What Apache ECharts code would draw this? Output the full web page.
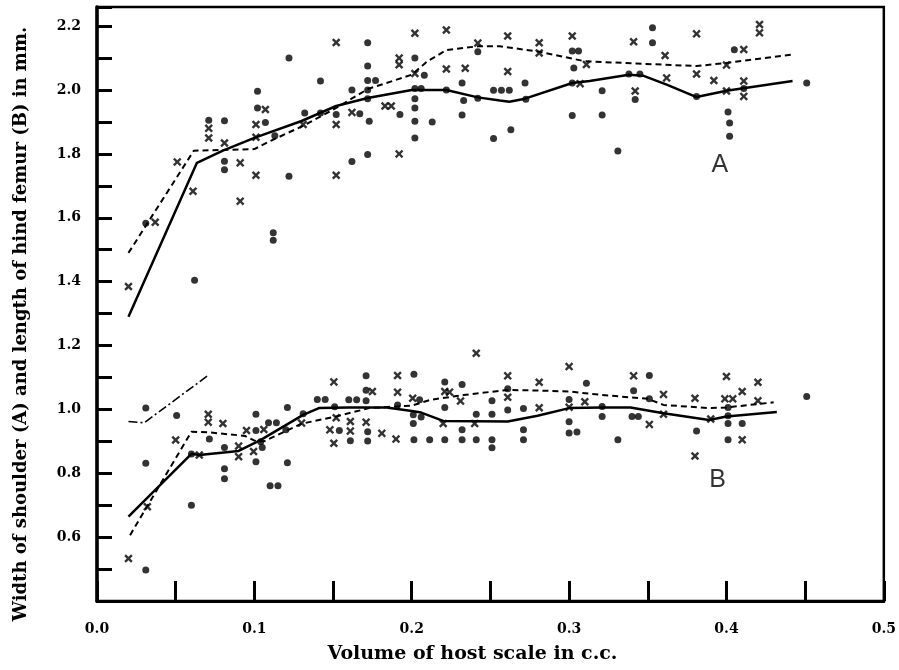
<!DOCTYPE html>
<html>
<head>
<meta charset="utf-8">
<script src="https://cdn.jsdelivr.net/npm/echarts@6/dist/echarts.min.js"></script>
<style>
html,body{margin:0;padding:0;background:#fff;}
#chart{width:899px;height:670px;}
</style>
</head>
<body>
<div id="chart"></div>
<script>
// ---- Data (x = volume of host scale in c.c., y = mm) ----
const aDots = [
 [0.031,1.583],[0.062,1.404],[0.071,1.905],[0.081,1.904],[0.081,1.777],[0.081,1.75],
 [0.102,1.996],[0.102,1.944],[0.107,1.898],[0.113,1.857],[0.112,1.553],[0.112,1.53],
 [0.122,2.1],[0.122,1.73],[0.132,1.928],[0.142,2.028],[0.142,1.928],[0.152,1.923],
 [0.162,2.0],[0.162,1.776],[0.167,1.926],[0.172,2.148],[0.172,2.075],[0.172,2.03],
 [0.177,2.03],[0.172,2.0],[0.172,1.973],[0.173,1.902],[0.172,1.798],[0.1925,1.923],
 [0.202,2.1],[0.202,2.005],[0.206,2.005],[0.202,1.973],[0.202,1.944],[0.202,1.902],
 [0.202,1.85],[0.208,2.046],[0.213,1.9],[0.222,2.0],[0.232,2.022],[0.232,1.922],
 [0.233,1.967],[0.242,2.12],[0.242,1.974],[0.252,1.999],[0.257,1.999],[0.262,1.999],
 [0.252,1.848],[0.263,1.876],[0.272,2.022],[0.2725,1.971],[0.302,2.122],[0.306,2.122],
 [0.303,2.069],[0.302,2.022],[0.302,1.92],[0.321,1.998],[0.321,1.922],[0.331,1.809],
 [0.338,2.05],[0.345,2.05],[0.342,1.97],[0.353,2.195],[0.353,2.148],[0.381,1.98],
 [0.405,2.126],[0.401,1.931],[0.402,1.897],[0.402,1.855],[0.411,2.005],[0.451,2.022]
];
const aCrosses = [
 [0.02,1.385],[0.037,1.586],[0.051,1.775],[0.061,1.683],[0.071,1.88],[0.071,1.85],
 [0.081,1.834],[0.091,1.772],[0.091,1.652],[0.101,1.892],[0.101,1.852],[0.101,1.733],
 [0.107,1.939],[0.131,1.892],[0.152,2.149],[0.152,1.892],[0.152,1.733],[0.162,1.93],
 [0.183,1.95],[0.187,1.95],[0.192,2.1],[0.192,2.079],[0.192,1.8],[0.202,2.178],
 [0.202,2.052],[0.222,2.188],[0.222,2.066],[0.234,2.068],[0.242,2.147],[0.261,2.169],
 [0.261,2.058],[0.281,2.148],[0.281,2.116],[0.302,2.169],[0.307,2.02],[0.311,2.08],
 [0.341,2.151],[0.342,1.997],[0.361,2.108],[0.362,2.038],[0.381,2.176],[0.381,2.05],
 [0.392,2.03],[0.4,2.078],[0.4,1.997],[0.411,2.127],[0.411,2.028],[0.411,1.98],
 [0.421,2.205],[0.421,2.179]
];
const bDots = [
 [0.031,1.004],[0.031,0.831],[0.031,0.497],[0.0506,0.981],[0.06,0.7],[0.06,0.86],
 [0.0714,0.907],[0.081,0.881],[0.081,0.814],[0.081,0.783],[0.101,0.985],[0.101,0.934],
 [0.101,0.836],[0.104,0.899],[0.105,0.881],[0.109,0.958],[0.114,0.958],[0.11,0.761],
 [0.115,0.761],[0.121,1.006],[0.12,0.936],[0.121,0.833],[0.131,0.986],[0.14,1.031],
 [0.145,1.031],[0.151,1.008],[0.154,0.934],[0.16,1.03],[0.165,1.03],[0.171,1.105],
 [0.171,1.06],[0.171,1.027],[0.172,0.93],[0.172,0.901],[0.161,0.902],[0.191,1.014],
 [0.2014,1.11],[0.205,1.03],[0.201,0.983],[0.201,0.956],[0.206,0.976],[0.2014,0.905],
 [0.2114,0.905],[0.221,1.086],[0.221,1.006],[0.221,0.905],[0.232,1.078],[0.232,0.936],
 [0.232,0.905],[0.241,0.985],[0.241,0.905],[0.251,1.027],[0.251,0.985],[0.251,0.905],
 [0.251,0.88],[0.261,1.065],[0.261,0.998],[0.271,1.003],[0.271,0.936],[0.271,0.905],
 [0.3,1.031],[0.3,0.961],[0.3,0.926],[0.305,0.929],[0.311,1.082],[0.321,1.009],
 [0.321,0.978],[0.331,0.905],[0.34,0.978],[0.344,0.978],[0.341,1.058],[0.351,1.106],
 [0.351,1.033],[0.381,0.932],[0.401,1.006],[0.401,0.98],[0.401,0.956],[0.401,0.905],
 [0.41,0.956],[0.451,1.04]
];
const bCrosses = [
 [0.02,0.533],[0.032,0.695],[0.05,0.904],[0.065,0.857],[0.0707,0.985],[0.0707,0.96],
 [0.08,0.956],[0.09,0.885],[0.09,0.852],[0.095,0.934],[0.0995,0.868],[0.106,0.937],
 [0.13,0.957],[0.1505,1.086],[0.152,0.974],[0.148,0.936],[0.1505,0.894],[0.161,0.962],
 [0.161,0.932],[0.171,0.96],[0.175,1.056],[0.181,0.925],[0.191,1.106],[0.191,1.054],
 [0.19,0.907],[0.2006,1.035],[0.221,1.056],[0.224,1.054],[0.22,0.956],[0.231,1.026],
 [0.24,0.956],[0.241,1.176],[0.261,1.105],[0.261,1.038],[0.281,1.085],[0.281,1.005],
 [0.3,1.134],[0.3,1.007],[0.31,1.024],[0.341,1.105],[0.351,0.953],[0.36,1.047],
 [0.36,0.985],[0.38,1.035],[0.38,0.854],[0.39,0.97],[0.4,1.103],[0.399,1.033],
 [0.404,1.033],[0.41,1.056],[0.41,0.905],[0.42,1.085],[0.42,1.027]
];
const aSolid = [[0.02,1.29],[0.0635,1.772],[0.08,1.81],[0.1,1.85],[0.13,1.903],[0.152,1.95],
 [0.172,1.975],[0.2,2.0],[0.222,2.0],[0.242,1.977],[0.256,1.967],[0.262,1.963],[0.272,1.973],
 [0.302,2.022],[0.313,2.028],[0.338,2.048],[0.347,2.045],[0.362,2.017],[0.381,1.978],
 [0.4,1.998],[0.442,2.028]];
const aDashed = [[0.02,1.49],[0.0615,1.81],[0.1,1.815],[0.11,1.84],[0.131,1.888],[0.152,1.944],
 [0.172,2.003],[0.2,2.048],[0.21,2.09],[0.222,2.125],[0.242,2.137],[0.256,2.137],[0.281,2.12],
 [0.31,2.09],[0.343,2.083],[0.381,2.075],[0.4,2.085],[0.442,2.111]];
const bSolid = [[0.02,0.664],[0.06,0.861],[0.065,0.857],[0.09,0.87],[0.1,0.894],[0.106,0.91],
 [0.131,0.983],[0.141,1.004],[0.16,1.006],[0.184,1.006],[0.2,0.995],[0.206,0.99],[0.22,0.964],
 [0.24,0.963],[0.261,0.962],[0.28,0.98],[0.3,1.004],[0.321,1.006],[0.339,1.006],[0.36,0.988],
 [0.389,0.967],[0.4,0.978],[0.432,0.992]];
const bDashed = [[0.021,0.606],[0.06,0.93],[0.071,0.928],[0.094,0.917],[0.101,0.9],[0.106,0.9],
 [0.13,0.955],[0.152,0.978],[0.173,1.004],[0.2,1.012],[0.212,1.03],[0.233,1.045],[0.261,1.061],
 [0.28,1.059],[0.3,1.056],[0.321,1.045],[0.35,1.033],[0.36,1.014],[0.389,1.004],[0.4,1.006],
 [0.415,1.014],[0.43,1.022]];
const bDashDot = [[0.02,0.962],[0.03,0.958],[0.071,1.108]];
const curveLabels = [[0.3958,1.766,'A'],[0.3943,0.778,'B']];
const yTickLabels = ['0.6','0.8','1.0','1.2','1.4','1.6','1.8','2.0','2.2'];
const xTickLabels = ['0.0','0.1','0.2','0.3','0.4','0.5'];

const crossPath = 'path://M0,2 L2,0 L5,3 L8,0 L10,2 L7,5 L10,8 L8,10 L5,7 L2,10 L0,8 L3,5 Z';
const serif = '"DejaVu Serif", "Liberation Serif", serif';

function dots(data){return {type:'scatter',data:data,symbol:'circle',symbolSize:7,itemStyle:{color:'#000'},z:5};}
function crosses(data){return {type:'scatter',data:data,symbol:crossPath,symbolSize:8.5,itemStyle:{color:'#000'},z:5};}
function line(data,type,w){return {type:'line',data:data,showSymbol:false,symbol:'none',smooth:false,
  lineStyle:{color:'#000',width:w,type:type},z:4};}

const chart = echarts.init(document.getElementById('chart'),null,{renderer:'canvas'});
chart.setOption({
  animation:false,
  backgroundColor:'#fff',
  grid:{left:97,right:14,top:7,bottom:69,show:true,borderColor:'#000',borderWidth:2.5},
  xAxis:{type:'value',min:0,max:0.5,interval:0.05,
    name:'Volume of host scale in c.c.',nameLocation:'middle',nameGap:44,
    nameTextStyle:{fontFamily:serif,fontWeight:'bold',fontSize:19,color:'#000',padding:[0,36,0,0]},
    axisLine:{show:true,lineStyle:{color:'#000',width:3}},
    axisTick:{show:true,inside:true,length:20,lineStyle:{color:'#000',width:3}},
    splitLine:{show:false},
    axisLabel:{margin:21,fontFamily:serif,fontWeight:'bold',fontSize:14,color:'#000',
      formatter:function(v){const k=Math.round(v*20);if(k%2!==0)return '';return xTickLabels[k/2]||'';}}
  },
  yAxis:{type:'value',min:0.4,max:2.26,interval:0.1,
    name:'Width of shoulder (A) and length of hind femur (B) in mm.',nameLocation:'middle',nameGap:67,
    nameTextStyle:{fontFamily:serif,fontWeight:'bold',fontSize:18,color:'#000',padding:[0,40,0,0]},
    axisLine:{show:true,lineStyle:{color:'#000',width:3.5}},
    axisTick:{show:true,inside:true,length:15,lineStyle:{color:'#000',width:3}},
    splitLine:{show:false},
    axisLabel:{margin:16,fontFamily:serif,fontWeight:'bold',fontSize:14,color:'#000',
      formatter:function(v){const k=Math.round(v*10);if(k%2!==0||k<6||k>22||Math.abs(v*10-k)>0.01)return '';return yTickLabels[(k-6)/2];}}
  },
  series:[
    line(aSolid,'solid',2.5),
    line(aDashed,[6,4],2),
    line(bSolid,'solid',2.5),
    line(bDashed,[6,4],2),
    line(bDashDot,[9,3,2,3],1.6),
    dots(aDots),crosses(aCrosses),dots(bDots),crosses(bCrosses),
    {type:'scatter',data:curveLabels,symbolSize:0,silent:true,
      label:{show:true,position:'inside',formatter:function(p){return p.data[2];},
        fontFamily:'"Liberation Sans", Arial, sans-serif',fontSize:25,color:'#000'}}
  ]
});
</script>
</body>
</html>
